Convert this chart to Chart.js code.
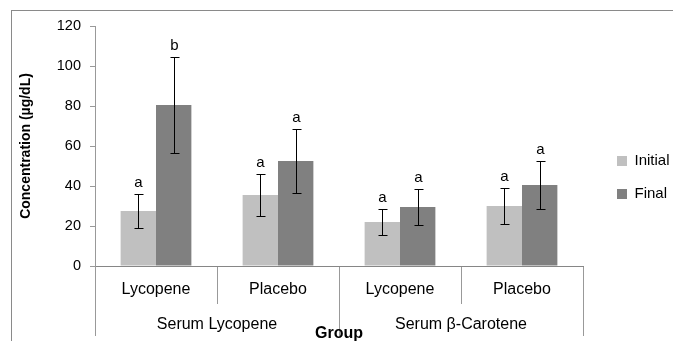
<!DOCTYPE html>
<html>
<head>
<meta charset="utf-8">
<script src="https://cdn.jsdelivr.net/npm/chart.js@4/dist/chart.umd.min.js"></script>
<style>
  html, body { margin: 0; padding: 0; background: #fff; }
  #wrap { width: 673px; height: 341px; position: relative; }
</style>
</head>
<body>
<div id="wrap"><canvas id="chart"></canvas></div>
<script>
const subgroups = ['Lycopene', 'Placebo', 'Lycopene', 'Placebo'];
const groups = ['Serum Lycopene', 'Serum β-Carotene'];
const initialValues = [27.5, 35.5, 22, 30];
const finalValues = [80.5, 52.5, 29.5, 40.5];
const initialErr = [8.3, 10.5, 6.7, 9];
const finalErr = [24, 16, 9, 12];
const initialLetters = ['a', 'a', 'a', 'a'];
const finalLetters = ['b', 'a', 'a', 'a'];
const yTicks = { min: 0, max: 120, step: 20 };

const FONT = 'Liberation Sans, Arial, sans-serif';

// error bars + significance letters, positioned from the y scale
const errorBars = {
  id: 'errorBars',
  afterDatasetsDraw(chart) {
    const { ctx, scales: { y } } = chart;
    ctx.save();
    ctx.strokeStyle = '#000';
    ctx.fillStyle = '#000';
    ctx.lineWidth = 1;
    ctx.font = '15px ' + FONT;
    ctx.textAlign = 'center';
    ctx.textBaseline = 'alphabetic';
    chart.data.datasets.forEach((ds, i) => {
      const meta = chart.getDatasetMeta(i);
      meta.data.forEach((bar, j) => {
        const v = ds.data[j], e = ds.errors[j];
        const x = Math.round(bar.x) + 0.5;
        const top = Math.round(y.getPixelForValue(v + e)) + 0.5;
        const bot = Math.round(y.getPixelForValue(v - e)) + 0.5;
        ctx.beginPath();
        ctx.moveTo(x, top); ctx.lineTo(x, bot);
        ctx.moveTo(x - 4, top); ctx.lineTo(x + 5, top);
        ctx.moveTo(x - 4, bot); ctx.lineTo(x + 5, bot);
        ctx.stroke();
        ctx.fillText(ds.letters[j], x, top - 8);
      });
    });
    ctx.restore();
  }
};

// outer chart frame (runs off the right and bottom edges)
const frame = {
  id: 'frame',
  beforeDraw(chart) {
    const { ctx, width, height } = chart;
    ctx.save();
    ctx.strokeStyle = '#8a8a8a';
    ctx.lineWidth = 1;
    ctx.strokeRect(11.5, 10.5, width, height);
    ctx.restore();
  }
};

// invisible spacer axes
const spacer = (position, size) => ({
  position,
  grid: { display: false },
  border: { display: false },
  ticks: { display: false },
  afterFit: s => { if (position === 'top') s.height = size; else s.width = size; }
});

new Chart(document.getElementById('chart'), {
  type: 'bar',
  data: {
    labels: subgroups,
    datasets: [
      { label: 'Initial', data: initialValues, errors: initialErr, letters: initialLetters,
        backgroundColor: '#c0c0c0', categoryPercentage: 0.58, barPercentage: 1 },
      { label: 'Final', data: finalValues, errors: finalErr, letters: finalLetters,
        backgroundColor: '#808080', categoryPercentage: 0.58, barPercentage: 1 }
    ]
  },
  options: {
    responsive: true,
    maintainAspectRatio: false,
    animation: false,
    layout: { padding: { left: 12, top: 14, right: 0, bottom: 0 } },
    plugins: {
      tooltip: { enabled: false },
      legend: {
        position: 'right',
        align: 'center',
        maxWidth: 74,
        labels: {
          boxWidth: 10, boxHeight: 10, padding: 18,
          color: '#000', font: { family: FONT, size: 15 }
        }
      }
    },
    scales: {
      x: {
        weight: 0,
        offset: true,
        grid: { offset: true, drawOnChartArea: false, tickLength: 38, color: '#999' },
        border: { color: '#868686' },
        ticks: { padding: -24, color: '#000', maxRotation: 0, autoSkip: false, font: { family: FONT, size: 16 } },
        afterFit: s => { s.height = 32; }
      },
      x2: {
        type: 'category',
        labels: groups,
        position: 'bottom',
        weight: 1,
        offset: true,
        grid: { offset: true, drawOnChartArea: false, tickLength: 38, color: '#999' },
        border: { display: false },
        ticks: { padding: -21, color: '#000', maxRotation: 0, font: { family: FONT, size: 16 } },
        title: { display: true, text: 'Group', color: '#000', padding: { top: 0, bottom: -2 },
                 font: { family: FONT, size: 16, weight: 'bold' } },
        afterFit: s => { s.height = 43; }
      },
      y: {
        min: yTicks.min,
        max: yTicks.max,
        grid: { drawOnChartArea: false, tickLength: 5, color: '#999' },
        border: { color: '#999' },
        ticks: { stepSize: yTicks.step, padding: 9, color: '#000', font: { family: FONT, size: 14.5 } },
        title: { display: true, text: 'Concentration (µg/dL)', color: '#000', padding: { top: 6, bottom: 0 },
                 font: { family: FONT, size: 14, weight: 'bold' } },
        afterFit: s => { s.width = 83; }
      },
      padRight: spacer('right', 16),
      padTop: spacer('top', 12)
    }
  },
  plugins: [frame, errorBars]
});
</script>
</body>
</html>
